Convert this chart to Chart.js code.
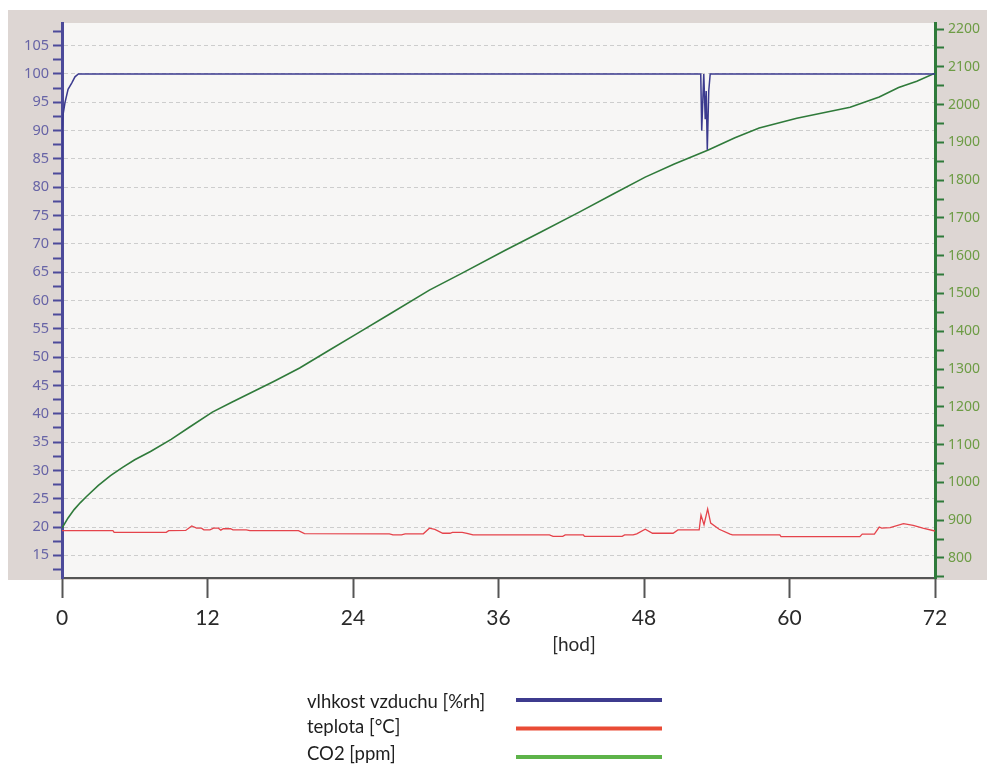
<!DOCTYPE html>
<html>
<head>
<meta charset="utf-8">
<script src="https://cdn.jsdelivr.net/npm/chart.js@4.4.1/dist/chart.umd.min.js"></script>
<style>
  html, body { margin: 0; padding: 0; background: #fff; }
  #wrap { position: relative; width: 987px; height: 764px; }
</style>
</head>
<body>
<div id="wrap"><canvas id="measure"></canvas></div>
<script>
// relative humidity [%rh] over time [h]
const humidityHours = [0, 0, 0.1, 0.25, 0.5, 0.8, 1.07, 1.35, 52.68, 52.76, 52.93, 53.05, 53.13, 53.22, 53.34, 53.46, 72];
const humidityValues = [82.5, 90, 93, 95, 97.3, 98.4, 99.5, 100, 100, 90, 100, 92, 97, 86.6, 97, 100, 100];

// temperature [°C]
const tempHours = [0, 4.2, 4.3, 8.6, 8.8, 10.2, 10.7, 11.1, 11.5, 11.7, 12.2, 12.5, 12.9, 13.1, 13.3, 13.9, 14.1, 15.2, 15.5, 19.5,
  20.0, 27.0, 27.3, 28.0, 28.3, 29.8, 30.3, 30.75, 31.4, 32.0, 32.2, 33.0, 33.4, 33.9, 40.2, 40.5, 41.3, 41.5, 43.0, 43.1,
  46.2, 46.4, 47.1, 47.4, 48.1, 48.7, 50.4, 50.8, 52.55, 52.7, 52.95, 53.25, 53.5, 54.2, 55.1, 55.3, 59.2, 59.3, 65.8, 66.0,
  67.0, 67.4, 67.6, 68.3, 69.4, 70.2, 71.0, 72];
const tempValues = [19.35, 19.35, 19.06, 19.06, 19.35, 19.4, 20.2, 19.8, 19.8, 19.5, 19.5, 19.8, 19.8, 19.45, 19.7, 19.7, 19.5, 19.5, 19.35, 19.35,
  18.85, 18.8, 18.6, 18.6, 18.8, 18.8, 19.8, 19.6, 18.9, 18.9, 19.05, 19.05, 18.9, 18.6, 18.6, 18.35, 18.35, 18.6, 18.6, 18.35,
  18.35, 18.6, 18.6, 18.8, 19.6, 18.9, 18.9, 19.5, 19.5, 22.1, 20.4, 23.2, 20.7, 19.6, 18.75, 18.6, 18.6, 18.3, 18.3, 18.75,
  18.75, 20.0, 19.8, 19.9, 20.6, 20.3, 19.8, 19.3];

// CO2 [ppm]
const co2Hours = [0, 0.5, 1, 1.5, 2, 3, 4, 5, 6, 7.3, 9, 10.5, 12.4, 14, 16, 17.5, 19.6, 22, 24.4, 27, 30.3, 33,
  36.6, 39.5, 42.7, 45.5, 48.1, 50.5, 53.3, 55.5, 57.5, 60.6, 63, 65, 67.4, 69, 70.5, 72];
const co2Values = [879, 906, 928, 946, 962, 992, 1018, 1040, 1060, 1082, 1114, 1146, 1186, 1212, 1244, 1268, 1303, 1349, 1395, 1445, 1509, 1554,
  1615, 1663, 1716, 1764, 1808, 1843, 1880, 1912, 1938, 1964, 1980, 1993, 2020, 2045, 2062, 2083];

const seriesLabels = ['vlhkost vzduchu [%rh]', 'teplota [°C]', 'CO2 [ppm]'];
const lineColors = ['#3b3a8e', '#e5434b', '#2f7a3a'];
const legendColors = ['#3d3b8e', '#e94b35', '#5db349'];
const timeUnit = '[hod]';

// tick positions: labelled every 5 %rh / 100 ppm, minor marks between
const humidityTicks = [];
for (let v = 12.5; v <= 107.5; v += 2.5) humidityTicks.push(v);
const co2Ticks = [];
for (let v = 750; v <= 2200; v += 50) co2Ticks.push(v);

const toPoints = (xs, ys) => xs.map((x, i) => ({ x: x, y: ys[i] }));

const panelBackground = {
  id: 'panelBackground',
  beforeDraw(chart) {
    const { ctx, chartArea: a } = chart;
    ctx.save();
    ctx.fillStyle = '#ffffff';
    ctx.fillRect(0, 0, chart.width, chart.height);
    ctx.fillStyle = '#ddd6d3';
    ctx.fillRect(8, 10, chart.width - 8, a.bottom + 2 - 10);
    ctx.fillStyle = '#f7f6f5';
    ctx.fillRect(a.left, a.top, a.right - a.left, a.bottom - a.top);
    ctx.restore();
  }
};

// unit caption under the time axis and the legend below it
const legendTextY = [702, 727, 754];
const legendLineY = [700, 728.5, 757];
const bottomLegend = {
  id: 'bottomLegend',
  afterDraw(chart) {
    const ctx = chart.ctx;
    ctx.save();
    ctx.fillStyle = '#2a2a2a';
    ctx.font = '19px Lato';
    ctx.textAlign = 'center';
    ctx.textBaseline = 'middle';
    ctx.fillText(timeUnit, 574, 645);
    ctx.textAlign = 'left';
    ctx.font = '18.5px Lato';
    chart.data.datasets.forEach((ds, i) => {
      ctx.fillStyle = '#1e1e1e';
      ctx.fillText(ds.label, 307, legendTextY[i]);
      ctx.strokeStyle = legendColors[i];
      ctx.lineWidth = 4;
      ctx.beginPath();
      ctx.moveTo(516, legendLineY[i]);
      ctx.lineTo(662, legendLineY[i]);
      ctx.stroke();
    });
    ctx.restore();
  }
};

new Chart(document.getElementById('measure'), {
  type: 'line',
  data: {
    datasets: [{
      label: seriesLabels[0],
      data: toPoints(humidityHours, humidityValues),
      borderColor: lineColors[0],
      borderWidth: 1.5,
      yAxisID: 'y'
    }, {
      label: seriesLabels[1],
      data: toPoints(tempHours, tempValues),
      borderColor: lineColors[1],
      borderWidth: 1.3,
      yAxisID: 'y'
    }, {
      label: seriesLabels[2],
      data: toPoints(co2Hours, co2Values),
      borderColor: lineColors[2],
      borderWidth: 1.6,
      yAxisID: 'y2'
    }]
  },
  options: {
    responsive: true,
    maintainAspectRatio: false,
    animation: false,
    elements: { point: { radius: 0 }, line: { tension: 0 } },
    layout: { padding: { left: 0, right: 0, top: 23, bottom: 96 } },
    plugins: { legend: { display: false }, tooltip: { enabled: false } },
    scales: {
      x: {
        type: 'linear',
        min: 0,
        max: 72,
        afterFit: s => { s.height = 90; },
        ticks: { stepSize: 12, color: '#2a2a2a', font: { family: 'Lato', size: 21 }, padding: 8, maxRotation: 0 },
        grid: { drawOnChartArea: false, tickLength: 20, tickColor: '#555555', tickWidth: 2 },
        border: { color: '#555555', width: 2 }
      },
      y: {
        type: 'linear',
        position: 'left',
        min: 11,
        max: 109,
        afterBuildTicks: s => { s.ticks = humidityTicks.map(v => ({ value: v })); },
        afterFit: s => { s.width = 62; },
        ticks: {
          autoSkip: false,
          padding: 4,
          color: '#6764a6',
          font: { family: 'Noto Sans', size: 14.5 },
          callback: v => (v % 5 === 0 ? v : '')
        },
        grid: {
          color: c => (c.tick && c.tick.value % 5 === 0 ? '#cdcdcd' : 'rgba(0,0,0,0)'),
          lineWidth: 1,
          tickColor: '#4c4a9a',
          tickLength: 9,
          tickWidth: 2
        },
        border: { color: '#4c4a9a', width: 3, dash: [4, 3] }
      },
      y2: {
        type: 'linear',
        position: 'right',
        min: 747,
        max: 2216,
        afterBuildTicks: s => { s.ticks = co2Ticks.map(v => ({ value: v })); },
        afterFit: s => { s.width = 52; },
        ticks: {
          autoSkip: false,
          padding: 4,
          color: '#6d9c45',
          font: { family: 'Noto Sans', size: 14 },
          callback: v => (v % 100 === 0 ? v : '')
        },
        grid: { drawOnChartArea: false, tickColor: '#2f7a3a', tickLength: 9, tickWidth: 2 },
        border: { color: '#2f7a3a', width: 3 }
      }
    }
  },
  plugins: [panelBackground, bottomLegend]
});
</script>
</body>
</html>
